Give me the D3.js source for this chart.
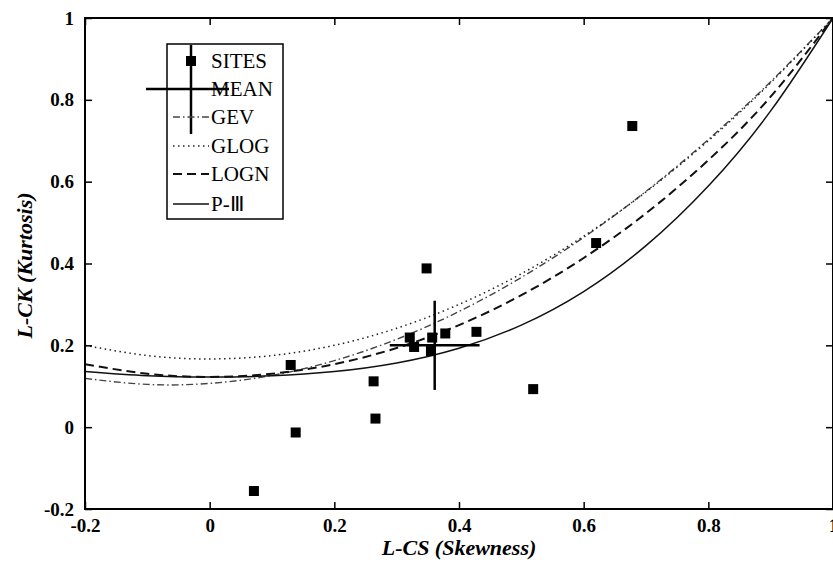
<!DOCTYPE html>
<html><head><meta charset="utf-8">
<script src="https://cdn.jsdelivr.net/npm/d3@7"></script>
<style>body{margin:0;background:#fff}</style>
</head><body>
<svg id="c" width="833" height="565"></svg>
<script>
const siteLCS = [0.071,0.138,0.130,0.263,0.266,0.321,0.328,0.348,0.357,0.355,0.378,0.428,0.519,0.620,0.678];
const siteLCK = [-0.156,-0.013,0.152,0.112,0.021,0.219,0.196,0.388,0.219,0.186,0.229,0.233,0.093,0.450,0.736];
const meanLCS = 0.361, meanLCK = 0.200, sdLCS = 0.072, sdLCK = 0.109;
const curveLCS = [-0.2,-0.1,0,0.1,0.2,0.3,0.4,0.5,0.6,0.7,0.8,0.9,1.0];
const gevLCK  = [0.1193,0.1045,0.1070,0.1264,0.1626,0.2148,0.2827,0.3659,0.4638,0.5762,0.7030,0.8443,1.0];
const glogLCK = [0.2000,0.1750,0.1667,0.1750,0.2000,0.2417,0.3000,0.3750,0.4667,0.5750,0.7000,0.8417,1.0];
const lognLCK = [0.1540,0.1306,0.1228,0.1306,0.1540,0.1935,0.2495,0.3226,0.4134,0.5227,0.6526,0.8077,1.0];
const pe3LCK  = [0.1359,0.1255,0.1224,0.1255,0.1359,0.1569,0.1929,0.2494,0.3314,0.4436,0.5894,0.7729,1.0];
const xTicks = [-0.2,0,0.2,0.4,0.6,0.8,1];
const yTicks = [-0.2,0,0.2,0.4,0.6,0.8,1];
const tickLabels = ["-0.2","0","0.2","0.4","0.6","0.8","1"];
const legendLabels = ["SITES","MEAN","GEV","GLOG","LOGN","P-Ⅲ"];
const xTitle = "L-CS (Skewness)", yTitle = "L-CK (Kurtosis)";

const svg = d3.select("#c");
const FONT = "'Liberation Serif','Times New Roman',serif";
const L = 85, R = 833, T = 18, B = 509;
const x = d3.scaleLinear().domain([-0.2,1]).range([L,R]);
const y = d3.scaleLinear().domain([-0.2,1]).range([B,T]);
const fmt = (d,i) => tickLabels[i];

// curves
const styles = [
  {data: gevLCK,  stroke:"#444", width:1.4, dash:"7,3,1.5,3"},
  {data: glogLCK, stroke:"#222", width:1.5, dash:"1.5,3.5"},
  {data: lognLCK, stroke:"#111", width:2,   dash:"9,5"},
  {data: pe3LCK,  stroke:"#111", width:1.5, dash:null}
];
const line = d3.line().x(d=>x(d[0])).y(d=>y(d[1])).curve(d3.curveNatural);
svg.append("defs").append("clipPath").attr("id","clip").append("rect")
  .attr("x",L).attr("y",T).attr("width",R-L).attr("height",B-T);
const g = svg.append("g").attr("clip-path","url(#clip)");
styles.forEach(s=>{
  g.append("path").attr("d", line(curveLCS.map((t,i)=>[t,s.data[i]])))
    .attr("fill","none").attr("stroke",s.stroke).attr("stroke-width",s.width)
    .attr("stroke-dasharray",s.dash);
});

// sites
svg.append("g").selectAll("rect").data(siteLCS).join("rect")
  .attr("x",(d,i)=>x(d)-5).attr("y",(d,i)=>y(siteLCK[i])-5)
  .attr("width",10).attr("height",10).attr("fill","#000");

// mean cross
svg.append("line").attr("x1",x(meanLCS-sdLCS)).attr("x2",x(meanLCS+sdLCS))
  .attr("y1",y(meanLCK)).attr("y2",y(meanLCK)).attr("stroke","#000").attr("stroke-width",2.5);
svg.append("line").attr("x1",x(meanLCS)).attr("x2",x(meanLCS))
  .attr("y1",y(meanLCK-sdLCK)).attr("y2",y(meanLCK+sdLCK)).attr("stroke","#000").attr("stroke-width",2.5);

// axes
const tk = 7;
svg.append("g").attr("transform",`translate(0,${B})`)
  .call(d3.axisBottom(x).tickValues(xTicks).tickSize(-tk).tickPadding(10).tickFormat(fmt));
svg.append("g").attr("transform",`translate(0,${T})`)
  .call(d3.axisTop(x).tickValues(xTicks).tickSize(-tk).tickFormat(""));
svg.append("g").attr("transform",`translate(${L},0)`)
  .call(d3.axisLeft(y).tickValues(yTicks).tickSize(-tk).tickPadding(11).tickFormat(fmt));
svg.append("g").attr("transform",`translate(${R},0)`)
  .call(d3.axisRight(y).tickValues(yTicks).tickSize(-tk).tickFormat(""));
svg.selectAll(".domain").remove();
svg.selectAll(".tick line").attr("stroke","#000").attr("stroke-width",1.5);
svg.selectAll(".tick text").attr("font-family",FONT).attr("font-size",19)
  .attr("font-weight","bold").attr("fill","#000");
svg.append("rect").attr("x",L).attr("y",T).attr("width",R-L).attr("height",B-T)
  .attr("fill","none").attr("stroke","#000").attr("stroke-width",2);

// titles
svg.append("text").attr("x",(L+R)/2).attr("y",555).attr("text-anchor","middle")
  .attr("font-family",FONT).attr("font-size",22).attr("font-style","italic").attr("font-weight","bold")
  .text(xTitle);
svg.append("text").attr("transform",`translate(32,${(T+B)/2+2}) rotate(-90)`).attr("text-anchor","middle")
  .attr("font-family",FONT).attr("font-size",22).attr("font-style","italic").attr("font-weight","bold")
  .text(yTitle);

// legend
const lg = svg.append("g");
lg.append("rect").attr("x",167).attr("y",44).attr("width",116).attr("height",175)
  .attr("fill","#fff").attr("stroke","#000").attr("stroke-width",1.5);
const rows = [61,89,117,146,174,204];
legendLabels.forEach((lab,i)=>{
  lg.append("text").attr("x",211).attr("y",rows[i]+7).attr("font-family",FONT)
    .attr("font-size",21).attr("fill","#000").text(lab);
});
lg.append("rect").attr("x",186).attr("y",56).attr("width",10).attr("height",10).attr("fill","#000");
lg.append("line").attr("x1",146).attr("x2",229).attr("y1",89).attr("y2",89).attr("stroke","#000").attr("stroke-width",2.5);
lg.append("line").attr("x1",191).attr("x2",191).attr("y1",45).attr("y2",134).attr("stroke","#000").attr("stroke-width",2.5);
styles.forEach((s,i)=>{
  lg.append("line").attr("x1",173).attr("x2",209).attr("y1",rows[i+2]).attr("y2",rows[i+2])
    .attr("stroke",s.stroke).attr("stroke-width",s.width).attr("stroke-dasharray",s.dash);
});
</script>
</body></html>
